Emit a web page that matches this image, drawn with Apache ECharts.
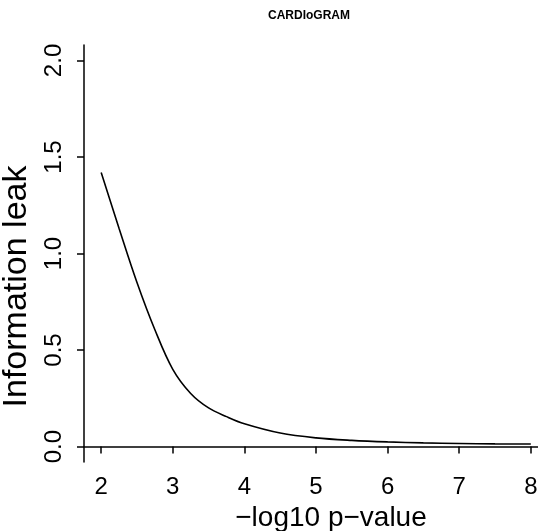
<!DOCTYPE html>
<html>
  <head>
    <meta charset="utf-8">
    <title>CARDIoGRAM</title>
  </head>
  <body style="margin: 0; background: #fff">
    <div id="container" style="width: 538px; height: 531px;"></div>
    <script type="text/javascript" src="https://cdn.jsdelivr.net/npm/echarts@6/dist/echarts.min.js"></script>
    <script type="text/javascript">
      // values
      var pValues = [2.0, 2.25, 2.5, 2.75, 3.0, 3.25, 3.5, 3.75, 4.0, 4.5, 5.0, 5.5, 6.0, 6.5, 7.0, 7.5, 8.0];
      var leak = [1.42, 1.13, 0.85, 0.605, 0.40, 0.275, 0.20, 0.155, 0.118, 0.07, 0.045, 0.032, 0.024, 0.019, 0.016, 0.014, 0.013];
      var xTicks = [2, 3, 4, 5, 6, 7, 8];
      var yTicks = [0, 0.5, 1, 1.5, 2];

      var dom = document.getElementById('container');
      var myChart = echarts.init(dom, null, {renderer: 'canvas'});

      var font = 'Liberation Sans, Arial, Helvetica, sans-serif';
      var ink = '#000';

      var points = pValues.map(function (x, i) { return [x, leak[i]]; });

      var option = {
        animation: false,
        backgroundColor: '#fff',
        title: {
          text: 'CARDIoGRAM',
          left: 263,
          top: 5,
          textStyle: {fontFamily: font, fontSize: 12, fontWeight: 'bold', color: ink}
        },
        grid: {
          left: 84,
          top: 45,
          width: 464,
          height: 417,
          outerBoundsMode: 'none',
          containLabel: false
        },
        xAxis: {
          type: 'value',
          min: 1.76,
          max: 8.24,
          name: '\u2212log10 p\u2212value',
          nameLocation: 'middle',
          nameGap: 35,
          nameTextStyle: {fontFamily: font, fontSize: 28, color: ink, padding: [0, 0, 0, 30]},
          splitLine: {show: false},
          axisLine: {lineStyle: {color: ink, width: 1.5}},
          axisTick: {customValues: xTicks, length: 7, lineStyle: {color: ink, width: 1.5}},
          axisLabel: {
            customValues: xTicks,
            fontFamily: font, fontSize: 24, color: ink, margin: 13,
            formatter: function (v) { return String(v); }
          }
        },
        yAxis: {
          type: 'value',
          min: -0.08,
          max: 2.08,
          name: 'Information leak',
          nameLocation: 'middle',
          nameRotate: 90,
          nameGap: 42,
          nameTextStyle: {fontFamily: font, fontSize: 34, color: ink, padding: [0, 0, 0, -66]},
          splitLine: {show: false},
          axisLine: {lineStyle: {color: ink, width: 1.5}},
          axisTick: {customValues: yTicks, length: 7, lineStyle: {color: ink, width: 1.5}},
          axisLabel: {
            customValues: yTicks,
            rotate: 90,
            fontFamily: font, fontSize: 24, color: ink, margin: 18,
            formatter: function (v) { return v.toFixed(1); }
          }
        },
        series: [
          {
            name: 'CARDIoGRAM',
            type: 'line',
            data: points,
            smooth: 0.35,
            showSymbol: false,
            symbol: 'none',
            lineStyle: {color: ink, width: 1.6}
          }
        ]
      };

      if (option && typeof option === 'object') {
          myChart.setOption(option);
      }
    </script>
  </body>
</html>
